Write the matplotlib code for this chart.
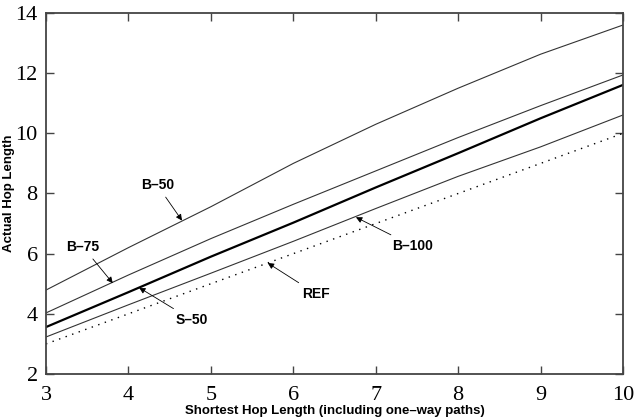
import matplotlib
matplotlib.use('Agg')
import matplotlib.pyplot as plt

plt.rcParams['font.family'] = 'serif'
plt.rcParams['font.serif'] = ['Liberation Serif', 'DejaVu Serif']

hops = [3, 4, 5, 6, 7, 8, 9, 10]
b50 = [4.79, 6.20, 7.56, 9.00, 10.30, 11.50, 12.63, 13.60]
b75 = [4.03, 5.29, 6.50, 7.64, 8.75, 9.86, 10.92, 11.94]
s50 = [3.56, 4.72, 5.90, 7.03, 8.20, 9.34, 10.50, 11.61]
b100 = [3.23, 4.30, 5.35, 6.41, 7.50, 8.57, 9.55, 10.61]
ref = [3, 4, 5, 6, 7, 8, 9, 10]
xticks = [3, 4, 5, 6, 7, 8, 9, 10]
yticks = [2, 4, 6, 8, 10, 12, 14]

fig = plt.figure(figsize=(6.36, 4.19), dpi=100)
ax = fig.add_axes([0.0723, 0.1074, 0.9073, 0.8616])

thin = dict(color='#333333', lw=0.8)
ax.plot(hops, b50, **thin)
ax.plot(hops, b75, **thin)
ax.plot(hops, s50, color='black', lw=1.6)
ax.plot(hops, b100, **thin)
ax.plot(hops, ref, color='black', lw=1.0, linestyle=(0, (1, 4)))

ax.set_xlim(3, 10)
ax.set_ylim(2, 14)
ax.set_xticks(xticks, labels=[str(v) for v in xticks],
              fontfamily='Liberation Serif', fontsize=16)
ax.set_yticks(yticks, labels=[str(v) for v in yticks],
              fontfamily='Liberation Serif', fontsize=16)

for s in ax.spines.values():
    s.set_linewidth(1.3)
    s.set_color('#444444')
ax.tick_params(direction='in', length=6, width=1.0, top=True, right=True,
               color='#444444')
ax.tick_params(axis='x', pad=9)
ax.tick_params(axis='y', pad=6)

ax.set_xlabel('Shortest Hop Length (including one\u2013way paths)',
              fontsize=9.5, fontweight='bold', family='Liberation Sans', labelpad=0)
ax.set_ylabel('Actual Hop Length', fontsize=9.5, fontweight='bold',
              family='Liberation Sans', labelpad=0)

arrow = dict(arrowstyle='-|>', lw=0.6, color='black', mutation_scale=9,
             shrinkA=2, shrinkB=0)
labels = [
    ('B\u201350', (4.35, 8.28), (4.65, 7.10)),
    ('B\u201375', (3.45, 6.22), (3.81, 5.02)),
    ('S\u201350', (4.77, 3.80), (4.13, 4.87)),
    ('REF', (6.28, 4.66), (5.69, 5.69)),
    ('B\u2013100', (7.45, 6.26), (6.76, 7.21)),
]
for txt, pos, tip in labels:
    ax.annotate(txt, xy=tip, xytext=pos, ha='center', va='center',
                fontsize=10, fontweight='bold', family='Liberation Sans',
                arrowprops=arrow)

fig.savefig('out.png', dpi=100)
